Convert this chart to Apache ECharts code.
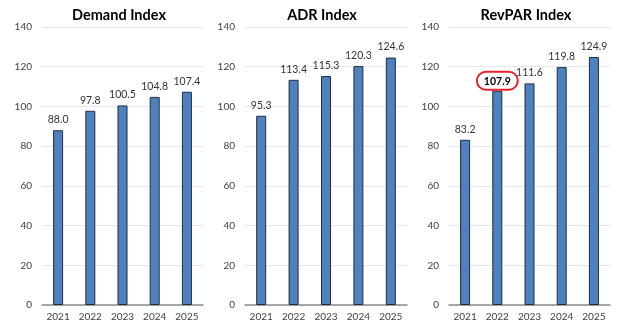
<!DOCTYPE html>
<html><head><meta charset="utf-8">
<script src="https://cdn.jsdelivr.net/npm/echarts@6/dist/echarts.min.js"></script>
<style>html,body{margin:0;padding:0;background:#fff}#c{width:640px;height:335px}</style>
</head><body><div id="c"></div>
<script>
const years = ['2021','2022','2023','2024','2025'];
const titles = ['Demand Index','ADR Index','RevPAR Index'];
const demand = [88.0, 97.8, 100.5, 104.8, 107.4];
const adr = [95.3, 113.4, 115.3, 120.3, 124.6];
const revpar = [83.2, 107.9, 111.6, 119.8, 124.9];
const yTicks = [0, 20, 40, 60, 80, 100, 120, 140];
const highlight = {series: 2, index: 1};

const font = 'Lato, "Open Sans", sans-serif';
const grids = [
  {left: 42, width: 161, top: 27, bottom: 30},
  {left: 245, width: 162, top: 27, bottom: 30},
  {left: 449, width: 161, top: 27, bottom: 30}
];
const titleCenters = [114, 317, 521];
const allData = [demand, adr, revpar];
const chart = echarts.init(document.getElementById('c'));
const option = {
  animation: false,
  title: titles.map((t, i) => ({
    text: t, left: titleCenters[i], textAlign: 'center', top: 3,
    textStyle: {fontFamily: font, fontSize: 14.5, fontWeight: 'bold', color: '#000'}
  })),
  grid: grids,
  xAxis: grids.map((g, i) => ({
    type: 'category', gridIndex: i, data: years,
    axisTick: {show: false},
    axisLine: {lineStyle: {color: '#8c8c8c', width: 1.5}},
    axisLabel: {color: '#404040', fontSize: 10, fontFamily: font, margin: 7}
  })),
  yAxis: grids.map((g, i) => ({
    type: 'value', gridIndex: i, min: yTicks[0], max: yTicks[yTicks.length - 1], interval: 20,
    axisLine: {show: false}, axisTick: {show: false},
    axisLabel: {color: '#404040', fontSize: 10, fontFamily: font, margin: 10},
    splitLine: {lineStyle: {color: '#e6e6e6', width: 1.2}}
  })),
  series: allData.map((d, i) => ({
    type: 'bar', xAxisIndex: i, yAxisIndex: i, barWidth: 10,
    itemStyle: {color: '#4f81bd', borderColor: '#1f2d44', borderWidth: 1},
    label: {show: true, position: 'top', distance: 5, color: '#333', fontSize: 10.5, fontFamily: font,
      formatter: p => p.value.toFixed(1)},
    data: d.map((v, j) => {
      if (i === highlight.series && j === highlight.index) {
        return {value: v, label: {fontWeight: 'bold', color: '#000', borderColor: '#e8202a', borderWidth: 2,
          borderRadius: [19, 19, 19, 19], padding: [4, 7, 3, 7], distance: 1}};
      }
      return v;
    })
  }))
};
chart.setOption(option);
</script></body></html>
